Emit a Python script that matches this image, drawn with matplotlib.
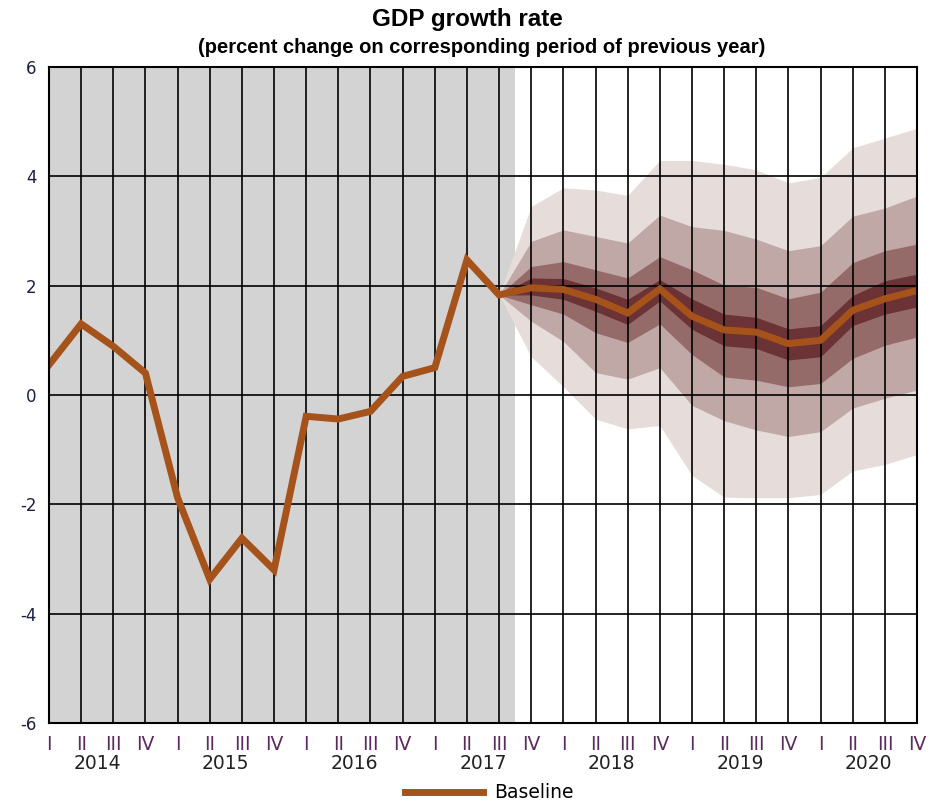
import matplotlib
matplotlib.use('Agg')
import matplotlib.pyplot as plt
import matplotlib.transforms as mtransforms
import numpy as np

years = ['2014', '2015', '2016', '2017', '2018', '2019', '2020']
quarters = ['I', 'II', 'III', 'IV']

baseline = [0.55, 1.3, 0.89, 0.4, -1.88, -3.37, -2.62, -3.2, -0.39, -0.44, -0.3, 0.34, 0.5, 2.47,
            1.83, 1.96, 1.93, 1.75, 1.5, 1.94, 1.44, 1.19, 1.15, 0.94, 1.0, 1.55, 1.76, 1.91]

# fan chart, from 2017 III to 2020 IV
fan_start = 14
outer_hi = [1.83, 3.45, 3.79, 3.75, 3.65, 4.29, 4.29, 4.22, 4.12, 3.88, 3.98, 4.52, 4.70, 4.88]
outer_lo = [1.83, 0.7, 0.15, -0.44, -0.62, -0.56, -1.47, -1.87, -1.88, -1.88, -1.82, -1.39, -1.27, -1.09]
mid_hi = [1.83, 2.81, 3.02, 2.9, 2.78, 3.29, 3.08, 3.01, 2.85, 2.64, 2.73, 3.27, 3.42, 3.64]
mid_lo = [1.83, 1.35, 0.98, 0.41, 0.29, 0.5, -0.19, -0.47, -0.64, -0.76, -0.67, -0.24, -0.06, 0.09]
inner_hi = [1.83, 2.35, 2.44, 2.29, 2.14, 2.53, 2.29, 2.01, 1.97, 1.76, 1.88, 2.42, 2.64, 2.76]
inner_lo = [1.83, 1.65, 1.48, 1.14, 0.96, 1.3, 0.74, 0.33, 0.27, 0.15, 0.21, 0.67, 0.91, 1.06]
core_hi = [1.83, 2.14, 2.13, 1.96, 1.75, 2.11, 1.76, 1.48, 1.42, 1.21, 1.27, 1.82, 2.09, 2.21]
core_lo = [1.83, 1.83, 1.75, 1.53, 1.29, 1.72, 1.2, 0.9, 0.85, 0.64, 0.7, 1.27, 1.48, 1.61]

hist_end = 14.5

plt.rcParams['font.family'] = ['DejaVu Sans']

fig = plt.figure(figsize=(9.42, 8.05), dpi=100)
ax = fig.add_axes([0.052, 0.1019, 0.9215, 0.8149])

n = len(baseline)
x = np.arange(n)
xf = np.arange(fan_start, fan_start + len(outer_hi))

ax.axvspan(0, hist_end, color='#d3d3d3', zorder=0, lw=0)
ax.fill_between(xf, outer_lo, outer_hi, color='#e6dcda', lw=0, zorder=1)
ax.fill_between(xf, mid_lo, mid_hi, color='#c0a8a6', lw=0, zorder=1.1)
ax.fill_between(xf, inner_lo, inner_hi, color='#956b6a', lw=0, zorder=1.2)
ax.fill_between(xf, core_lo, core_hi, color='#6b3335', lw=0, zorder=1.3)

for xi in x:
    ax.axvline(xi, color='black', lw=1.2, zorder=2)
for yv in range(-6, 7, 2):
    ax.axhline(yv, color='black', lw=1.2, zorder=2)

line, = ax.plot(x, baseline, color='#a5521b', lw=5, zorder=3, label='Baseline',
                solid_joinstyle='miter')

ax.set_xlim(0, n - 1)
ax.set_ylim(-6, 6)
ax.set_yticks(range(-6, 7, 2))
ax.set_yticklabels([str(v) for v in range(-6, 7, 2)], fontsize=12, color='#1a2040')
ax.set_xticks(x)
ax.set_xticklabels([quarters[i % 4] for i in x], fontsize=13.5, color='#5b2a5e')
ax.tick_params(axis='x', length=0, pad=9)
ax.tick_params(axis='y', length=0, pad=9)
for s in ax.spines.values():
    s.set_linewidth(1.5)
    s.set_zorder(4)

trans = mtransforms.blended_transform_factory(ax.transData, ax.transAxes)
for i, yr in enumerate(years):
    ax.text(i * 4 + 1.5, -0.062, yr, transform=trans, ha='center', va='center',
            fontsize=13.5, color='#222222')

fig.text(0.496, 0.976, 'GDP growth rate', ha='center', va='center', fontsize=17.5,
         fontweight='bold', family=['Liberation Sans'])
fig.text(0.511, 0.941, '(percent change on corresponding period of previous year)',
         ha='center', va='center', fontsize=14.5, fontweight='bold',
         family=['Liberation Sans'])

fig.legend(handles=[line], loc='center', bbox_to_anchor=(0.519, 0.015), frameon=False,
           fontsize=13.5, handlelength=4.2, handletextpad=0.55)

fig.savefig('out.png', dpi=100)
